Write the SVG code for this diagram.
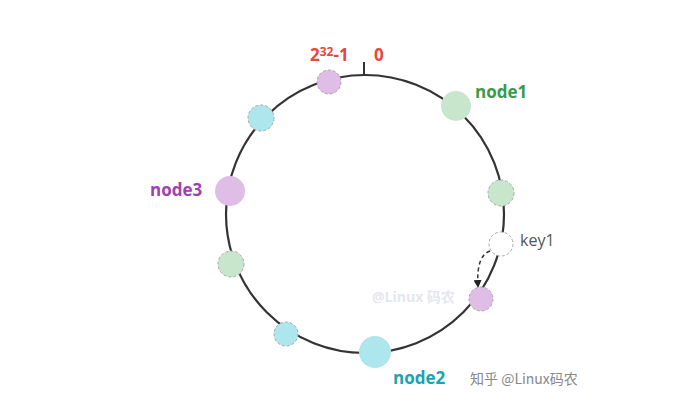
<svg xmlns="http://www.w3.org/2000/svg" width="695" height="402" viewBox="0 0 695 402">
<style>
.pk{fill:#e0bde6}.gr{fill:#c8e6cc}.cy{fill:#aee6ee}.wh{fill:#fff}
.d{stroke:#a8a8a8;stroke-width:1;stroke-dasharray:3 2}
.lbl{font-family:"Open Sans","DejaVu Sans",sans-serif;font-weight:bold;font-size:17px}
</style>
<defs><marker id="ah" markerWidth="8" markerHeight="8" refX="6" refY="4" orient="auto" markerUnits="userSpaceOnUse"><path d="M0,0 L8,4 L0,8 Z" fill="#222"/></marker></defs>
<rect width="695" height="402" fill="#fff"/>
<g id="connectors">
<circle cx="365" cy="214" r="139" fill="none" stroke="#333" stroke-width="2.2"/>
<line x1="364" y1="62" x2="364" y2="75" stroke="#333" stroke-width="2"/>
<path d="M490,251 Q476,256 478,286" fill="none" stroke="#333" stroke-width="1.5" stroke-dasharray="4 3" marker-end="url(#ah)"/>
</g>
<g id="v1"><circle class="pk d" cx="329" cy="82" r="12"/></g>
<g id="v2"><circle class="cy d" cx="261" cy="118" r="13"/></g>
<g id="node3"><circle class="pk" cx="230" cy="191" r="15"/><text class="lbl" x="150" y="196" fill="#a040b0">node3</text></g>
<g id="v3"><circle class="gr d" cx="231" cy="264" r="13"/></g>
<g id="v4"><circle class="cy d" cx="286" cy="334" r="12"/></g>
<g id="node2"><circle class="cy" cx="375" cy="352" r="16"/><text class="lbl" x="393" y="384" fill="#1aa3b0">node2</text></g>
<g id="v5"><circle class="pk d" cx="481" cy="299" r="12"/></g>
<g id="key1"><circle class="wh d" cx="501" cy="244" r="12"/><text x="520" y="246" font-family="Open Sans,DejaVu Sans,sans-serif" font-size="16" fill="#555">key1</text></g>
<g id="v6"><circle class="gr d" cx="501" cy="193" r="13"/></g>
<g id="node1"><circle class="gr" cx="456" cy="106" r="15"/><text class="lbl" x="475" y="98" fill="#3a9a4a">node1</text></g>
<g id="labels">
<text class="lbl" x="310" y="61" fill="#e8473a">2<tspan font-size="12" dy="-5">32</tspan><tspan dy="5">-1</tspan></text>
<text class="lbl" x="374" y="61" fill="#e8473a">0</text>
<text x="372" y="302" font-family="Open Sans,Noto Sans CJK SC,sans-serif" font-size="14" font-weight="bold" fill="#e6e6ee">@Linux 码农</text>
<text x="470" y="384" font-family="Noto Sans CJK SC,sans-serif" font-size="14" fill="#888">知乎 @Linux码农</text>
</g>
</svg>
